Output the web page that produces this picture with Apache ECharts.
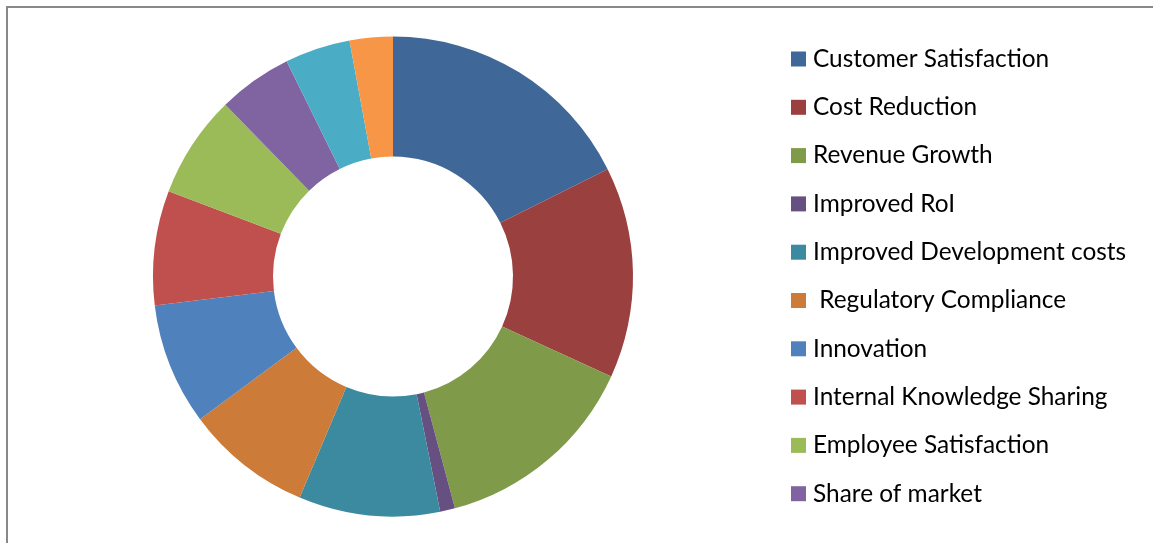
<!DOCTYPE html>
<html>
<head>
<meta charset="utf-8">
<script src="https://cdn.jsdelivr.net/npm/echarts@6/dist/echarts.min.js"></script>
<style>
html,body{margin:0;padding:0;background:#fff;}
#chart{width:1153px;height:543px;}
</style>
</head>
<body>
<div id="chart"></div>
<script>
var categories = [
  'Customer Satisfaction',
  'Cost Reduction',
  'Revenue Growth',
  'Improved RoI',
  'Improved Development costs',
  ' Regulatory Compliance',
  'Innovation',
  'Internal Knowledge Sharing',
  'Employee Satisfaction',
  'Share of market',
  'Other 1',
  'Other 2'
];
var values = [17.6, 14.2, 14.0, 1.0, 9.5, 8.5, 8.2, 7.7, 6.9, 5.0, 4.4, 2.9];
var legendNames = categories.slice(0, 10);
var colors = ['#3F6797', '#9A403E', '#7F9A48', '#665082', '#3C8AA0', '#CC7B38',
              '#4F81BD', '#C0504D', '#9BBB59', '#8064A2', '#4BACC6', '#F79646'];

var chart = echarts.init(document.getElementById('chart'), null, {renderer: 'canvas'});
var data = categories.map(function (c, i) { return {name: c, value: values[i]}; });
chart.setOption({
  animation: false,
  color: colors,
  graphic: [{
    type: 'rect',
    shape: {x: 7, y: 7, width: 1300, height: 700},
    style: {fill: 'none', stroke: '#888888', lineWidth: 2},
    silent: true
  }],
  legend: {
    data: legendNames,
    orient: 'vertical',
    left: 791,
    top: 47,
    height: 490,
    padding: 0,
    itemWidth: 15,
    itemHeight: 15,
    itemGap: 24.3,
    icon: 'rect',
    selectedMode: false,
    textStyle: {
      fontFamily: 'Lato',
      fontSize: 24.4,
      color: '#000',
      lineHeight: 24,
      padding: [0, 0, 0, 2]
    }
  },
  series: [{
    type: 'pie',
    center: [393, 276.5],
    radius: [120, 240],
    startAngle: 90,
    clockwise: true,
    label: {show: false},
    labelLine: {show: false},
    emphasis: {disabled: true},
    data: data
  }]
});
</script>
</body>
</html>
